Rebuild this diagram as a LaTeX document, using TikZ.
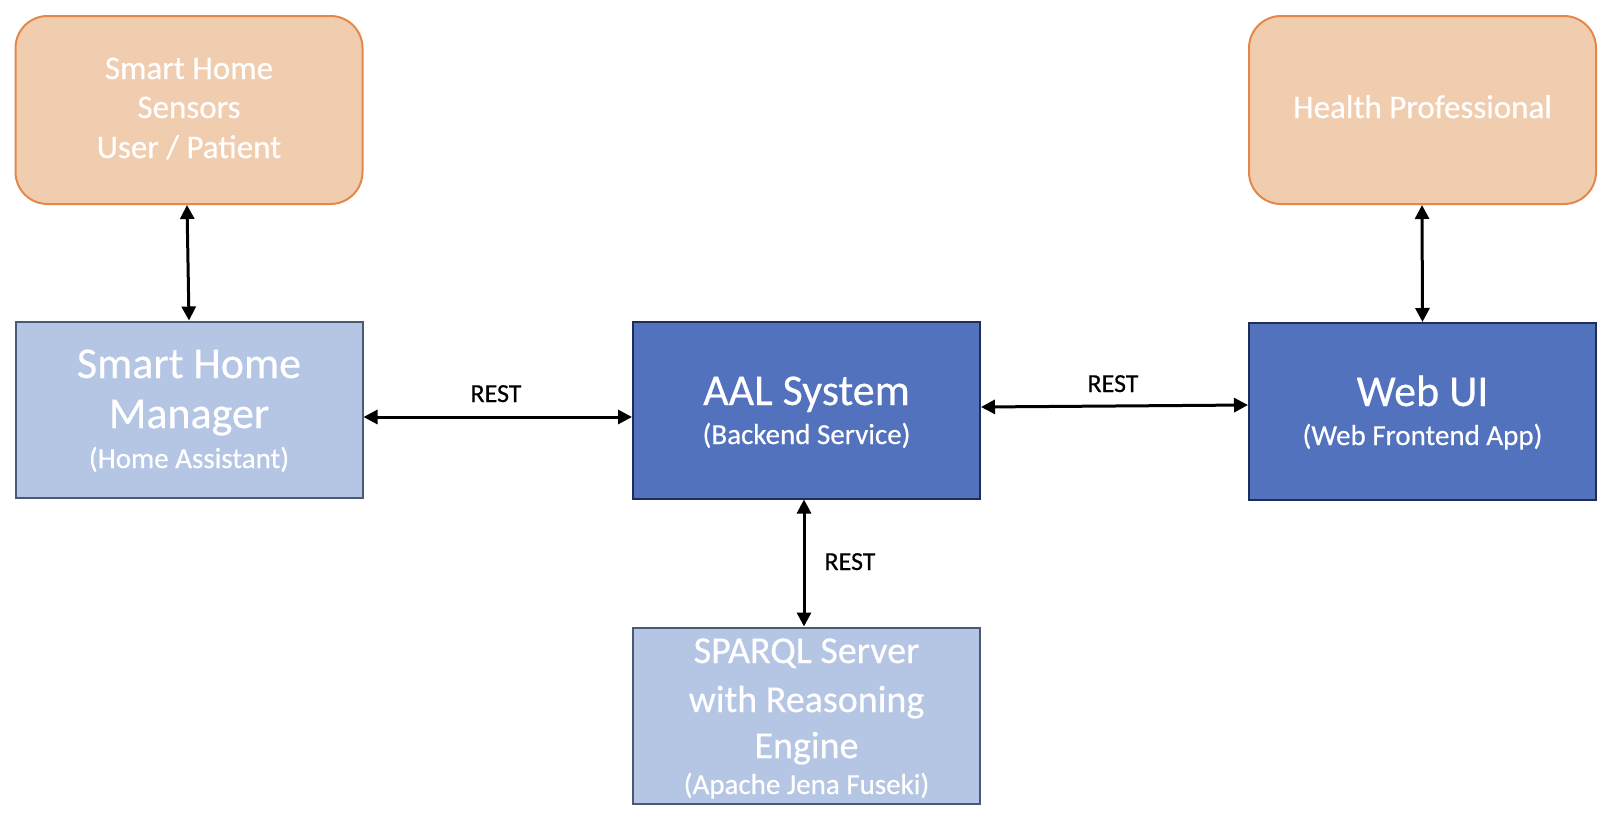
\documentclass[tikz,border=0pt]{standalone}
\usepackage{fontspec}
\setmainfont{Carlito}[UprightFeatures={FakeBold=0.4}]
\usetikzlibrary{arrows.meta}
\definecolor{orfill}{HTML}{F1CDB0}
\definecolor{ordraw}{HTML}{E3874A}
\definecolor{lbfill}{HTML}{B5C6E5}
\definecolor{lbdraw}{HTML}{4B5A73}
\definecolor{dbfill}{HTML}{5272BE}
\definecolor{dbdraw}{HTML}{1F2D5A}
\tikzset{
  box/.style={rectangle, line width=2pt, inner sep=0pt, minimum width=347pt},
  actor/.style={box, rounded corners=32pt, fill=orfill, draw=ordraw, minimum height=188pt},
  light/.style={box, fill=lbfill, draw=lbdraw, minimum height=176pt},
  dark/.style={box, fill=dbfill, draw=dbdraw, minimum height=177pt},
  txt/.style={text=white, anchor=base, inner sep=0pt},
  big/.style={txt, font=\fontsize{44}{53}\selectfont},
  mid/.style={txt, font=\fontsize{38}{46}\selectfont},
  act/.style={txt, font=\fontsize{33}{40}\selectfont},
  small/.style={txt, font=\fontsize{29}{35}\selectfont},
  restlbl/.style={anchor=base, inner sep=0pt, font=\fontsize{26}{31}\selectfont},
  arr/.style={line width=3pt, {Triangle[length=14pt,width=14pt]}-{Triangle[length=14pt,width=14pt]}}
}
\begin{document}
\begin{tikzpicture}[x=1pt,y=-1pt]
\useasboundingbox (0,0) rectangle (1610,820);
% boxes
\node[actor] (sens) at (189,110) {};
\node[actor] (hp) at (1422.5,110) {};
\node[light] (smh) at (189,409.5) {};
\node[dark] (aal) at (806.5,410) {};
\node[dark] (web) at (1422.5,411.5) {};
\node[light] (sparql) at (806.5,715.5) {};
% texts
\node[act] (sens1) at (189,79) {Smart Home};
\node[act] (sens2) at (189,118) {Sensors};
\node[act] (sens3) at (189,158) {User / Patient};
\node[act] (hp1) at (1422.5,118) {Health Professional};
\node[big] (smh1) at (189,378) {Smart Home};
\node[big] (smh2) at (189,428) {Manager};
\node[small] (smh3) at (189,468) {(Home Assistant)};
\node[big] (aal1) at (806.5,405) {AAL System};
\node[small] (aal2) at (806.5,444) {(Backend Service)};
\node[big] (web1) at (1422.5,406) {Web UI};
\node[small] (web2) at (1422.5,445) {(Web Frontend App)};
\node[mid] (sp1) at (806.5,663) {SPARQL Server};
\node[mid] (sp2) at (806.5,712) {with Reasoning};
\node[mid] (sp3) at (806.5,758) {Engine};
\node[small] (sp4) at (806.5,794) {(Apache Jena Fuseki)};
% connectors
\draw[arr] ([xshift=-2pt]sens.south) -- (smh.north);
\draw[arr] ([xshift=-0.5pt]hp.south) -- (web.north);
\draw[arr] ([yshift=-7.5pt]smh.east) -- ([yshift=-7pt]aal.west);
\draw[arr] ([yshift=3pt]aal.east) -- ([yshift=6.5pt]web.west);
\draw[arr] ([xshift=-2.5pt]aal.south) -- ([xshift=-2.5pt]sparql.north);
% labels
\node[restlbl] (r1) at (496,402) {REST};
\node[restlbl] (r2) at (1113,392) {REST};
\node[restlbl] (r3) at (850,570) {REST};
\end{tikzpicture}
\end{document}
